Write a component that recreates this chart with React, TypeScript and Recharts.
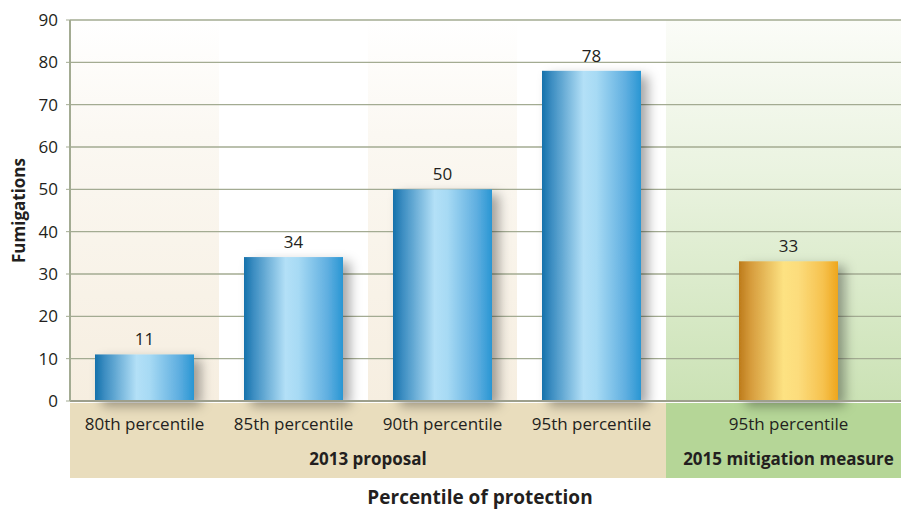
import { BarChart, Bar, XAxis, YAxis, CartesianGrid, ReferenceArea, LabelList } from 'recharts';

const categories2013 = ['80th percentile', '85th percentile', '90th percentile', '95th percentile'];
const fumigations2013 = [11, 34, 50, 78];
const categories2015 = ['95th percentile'];
const fumigations2015 = [33];
const yTicks = [0, 10, 20, 30, 40, 50, 60, 70, 80, 90];
const shadedColumns = ['80th percentile', '90th percentile'];

const data2013 = categories2013.map((name, i) => ({ name, value: fumigations2013[i] }));
const data2015 = categories2015.map((name, i) => ({ name, value: fumigations2015[i] }));

const font = '"Open Sans", "Noto Sans", sans-serif';
const textColor = '#231f20';
const gridColor = '#a3ab92';

// bar with the soft drop shadow of the original
const ShadowBar = (fillId: string) => (props: any) => {
  const { x, y, width, height } = props;
  return <rect x={x} y={y} width={width} height={height} fill={`url(#${fillId})`} filter="url(#barShadow)" />;
};

function Defs() {
  return (
    <defs>
      <linearGradient id="blueBar" x1="0" y1="0" x2="1" y2="0">
        <stop offset="0" stopColor="#1571ab" />
        <stop offset="0.1" stopColor="#3d8ec2" />
        <stop offset="0.42" stopColor="#b3e0f7" />
        <stop offset="0.55" stopColor="#a7daf4" />
        <stop offset="0.85" stopColor="#5eaee0" />
        <stop offset="1" stopColor="#2896d3" />
      </linearGradient>
      <linearGradient id="goldBar" x1="0" y1="0" x2="1" y2="0">
        <stop offset="0" stopColor="#bd7b1b" />
        <stop offset="0.12" stopColor="#d69c3c" />
        <stop offset="0.45" stopColor="#fde282" />
        <stop offset="0.6" stopColor="#fcdc7c" />
        <stop offset="0.85" stopColor="#f6c24e" />
        <stop offset="1" stopColor="#eea61d" />
      </linearGradient>
      <linearGradient id="beigeCol" x1="0" y1="0" x2="0" y2="1">
        <stop offset="0" stopColor="#ffffff" />
        <stop offset="0.3" stopColor="#fbf8f2" />
        <stop offset="1" stopColor="#f6eee0" />
      </linearGradient>
      <linearGradient id="greenCol" x1="0" y1="0" x2="0" y2="1">
        <stop offset="0" stopColor="#fbfcf8" />
        <stop offset="0.4" stopColor="#eaf3e0" />
        <stop offset="1" stopColor="#cbe2b5" />
      </linearGradient>
      <filter id="barShadow" x="-40%" y="-40%" width="200%" height="200%">
        <feDropShadow dx="7" dy="5" stdDeviation="6" floodColor="#000" floodOpacity="0.35" />
      </filter>
    </defs>
  );
}

const tickStyle = { fill: textColor, fontSize: 17, fontFamily: font };

export default function App() {
  return (
    <div style={{ position: 'absolute', left: 0, top: 0, width: 901, height: 510, overflow: 'hidden', background: '#fff', fontFamily: font, color: textColor }}>
      {/* category band under the axis */}
      <div style={{ position: 'absolute', left: 70, top: 403, width: 596, height: 75, background: '#e9ddbd' }} />
      <div style={{ position: 'absolute', left: 666, top: 403, width: 235, height: 75, background: '#b5d697' }} />

      <div style={{ position: 'absolute', left: 0, top: 0 }}>
        <BarChart width={666} height={510} data={data2013} margin={{ top: 20, right: 0, left: 0, bottom: 0 }} barSize={99}>
          <Defs />
          {shadedColumns.map((c) => (
            <ReferenceArea key={c} x1={c} x2={c} fill="url(#beigeCol)" fillOpacity={1} stroke="none" zIndex={-200} />
          ))}
          <CartesianGrid vertical={false} stroke={gridColor} strokeWidth={1.3} />
          <XAxis
            dataKey="name"
            height={109}
            tickLine={false}
            tickSize={0}
            tickMargin={17}
            axisLine={{ stroke: '#9d9f8c', strokeWidth: 2 }}
            tick={tickStyle}
            interval={0}
          />
          <YAxis
            domain={[0, 90]}
            ticks={yTicks}
            width={70}
            tickSize={4}
            tickMargin={8}
            tickLine={{ stroke: gridColor }}
            axisLine={{ stroke: gridColor, strokeWidth: 2 }}
            tick={tickStyle}
            label={{
              value: 'Fumigations',
              angle: -90,
              position: 'insideLeft',
              offset: 19,
              style: { textAnchor: 'middle', fontWeight: 700, fontSize: 17, fill: textColor, fontFamily: font },
            }}
          />
          <Bar dataKey="value" isAnimationActive={false} shape={ShadowBar('blueBar')}>
            <LabelList dataKey="value" position="top" offset={9} style={{ fill: textColor, fontSize: 17, fontFamily: font }} />
          </Bar>
        </BarChart>
      </div>

      <div style={{ position: 'absolute', left: 666, top: 0, width: 235, height: 510, overflow: 'hidden' }}>
        <BarChart width={245} height={510} data={data2015} margin={{ top: 20, right: 0, left: 0, bottom: 0 }} barSize={99}>
          <Defs />
          <ReferenceArea x1={categories2015[0]} x2={categories2015[0]} fill="url(#greenCol)" fillOpacity={1} stroke="none" zIndex={-200} />
          <CartesianGrid vertical={false} stroke={gridColor} strokeWidth={1.3} />
          <XAxis
            dataKey="name"
            height={109}
            tickLine={false}
            tickSize={0}
            tickMargin={17}
            axisLine={{ stroke: '#9d9f8c', strokeWidth: 2 }}
            tick={tickStyle}
            interval={0}
          />
          <YAxis hide domain={[0, 90]} ticks={yTicks} />
          <Bar dataKey="value" isAnimationActive={false} shape={ShadowBar('goldBar')}>
            <LabelList dataKey="value" position="top" offset={9} style={{ fill: textColor, fontSize: 17, fontFamily: font }} />
          </Bar>
        </BarChart>
      </div>

      {/* group labels */}
      <div style={{ position: 'absolute', left: 70, top: 447, width: 596, textAlign: 'center', fontWeight: 700, fontSize: 17, whiteSpace: 'nowrap' }}>2013 proposal</div>
      <div style={{ position: 'absolute', left: 666, top: 447, width: 245, textAlign: 'center', fontWeight: 700, fontSize: 17, whiteSpace: 'nowrap' }}>2015 mitigation measure</div>
      <div style={{ position: 'absolute', left: 70, top: 484, width: 820, textAlign: 'center', fontWeight: 700, fontSize: 19, whiteSpace: 'nowrap' }}>Percentile of protection</div>
    </div>
  );
}
